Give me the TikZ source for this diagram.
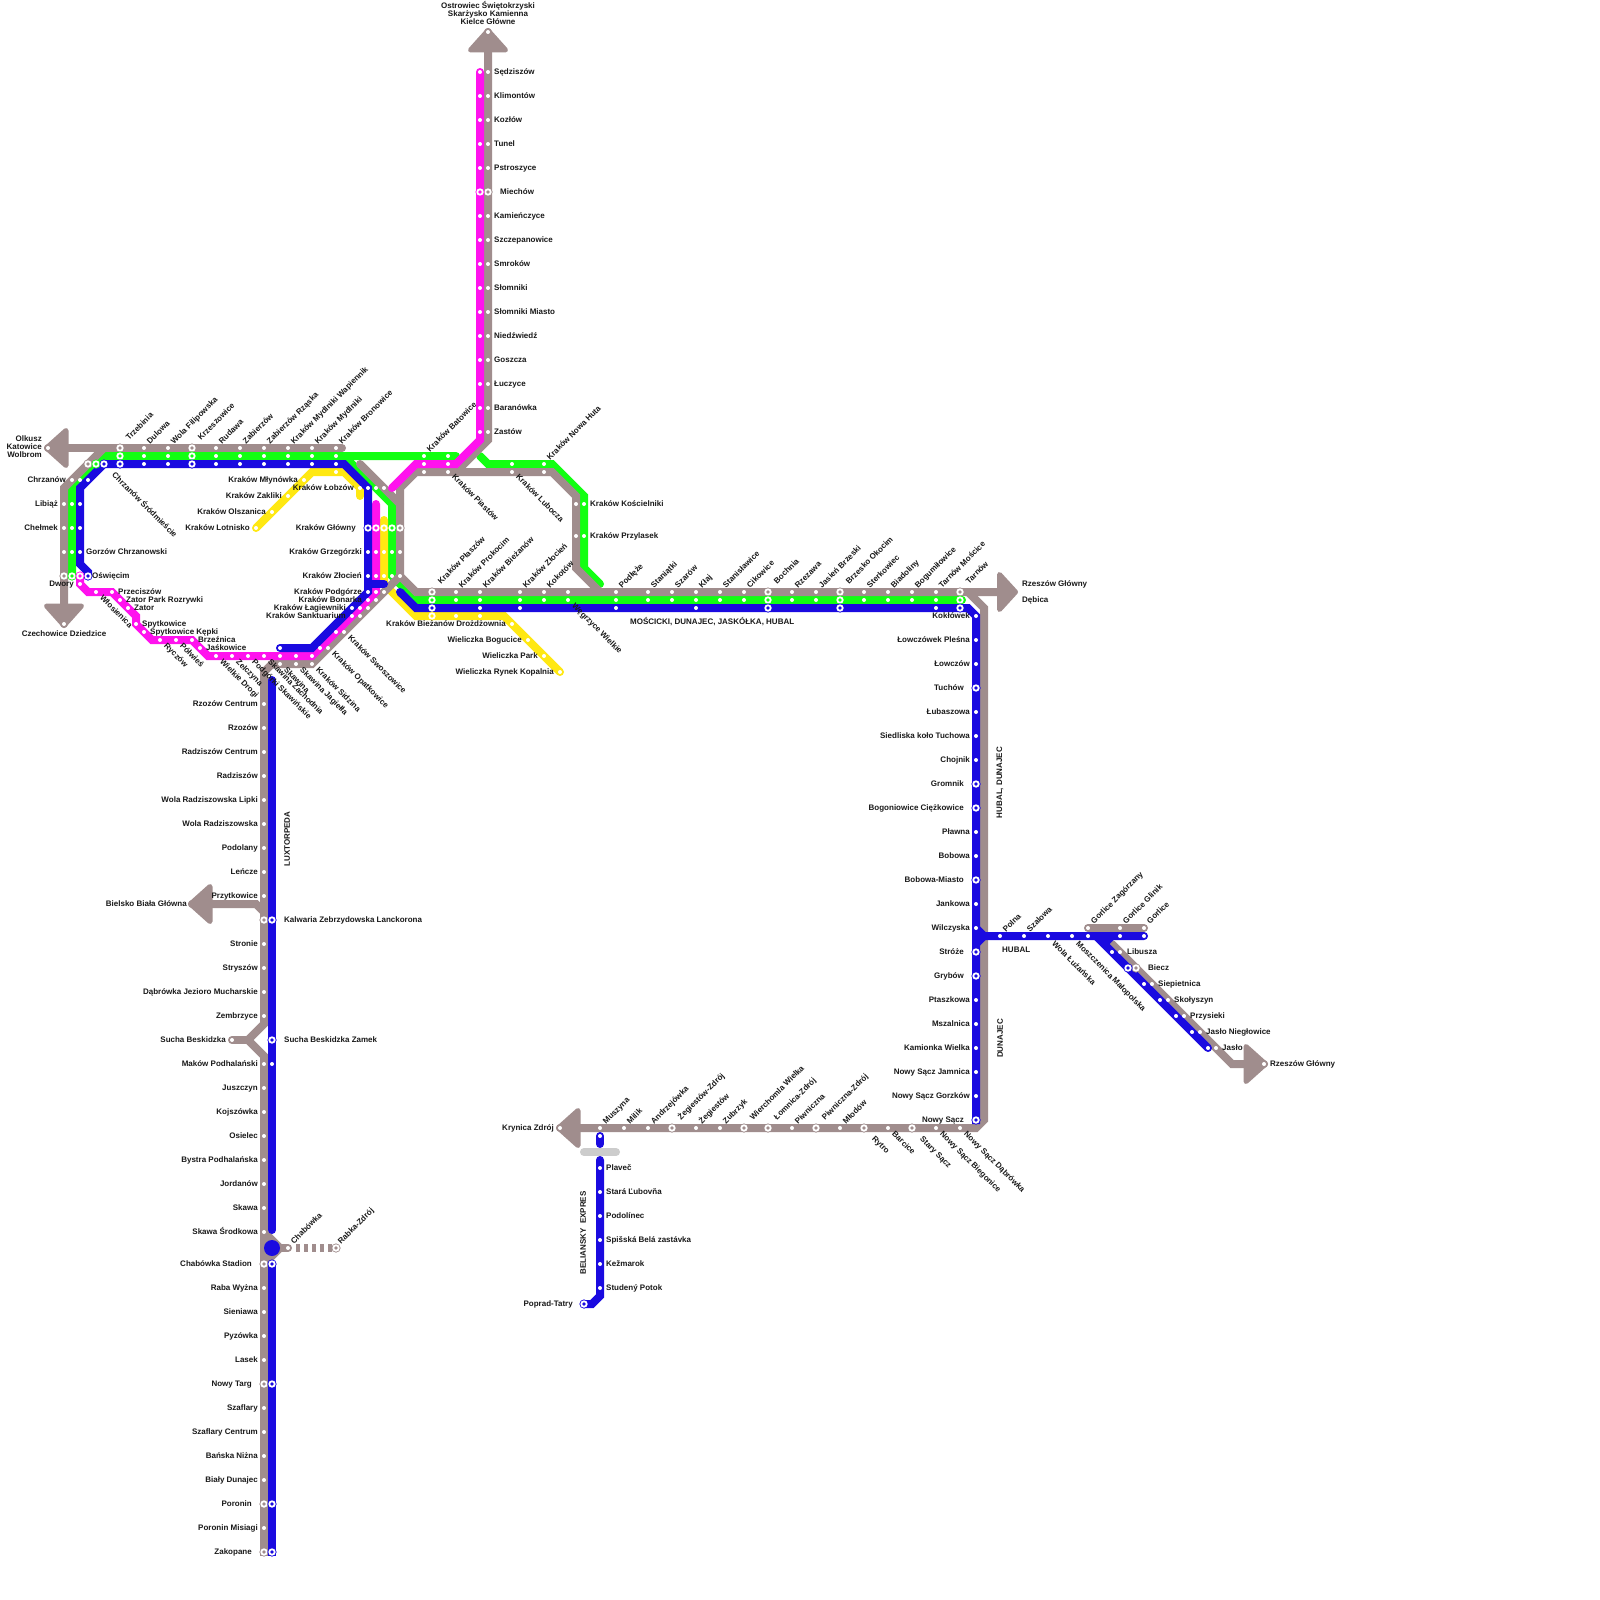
\documentclass[tikz,border=0pt]{standalone}
\usepackage{fontspec}
\setmainfont{Liberation Sans}
\definecolor{railgrey}{HTML}{A08D8D}
\definecolor{railgreen}{HTML}{12FF12}
\definecolor{railblue}{HTML}{1A0AE0}
\definecolor{railpink}{HTML}{FF12EE}
\definecolor{railyellow}{HTML}{FFE812}
\definecolor{railpale}{HTML}{CCCCCC}
\tikzset{
  rail/.style={line width=8pt,line cap=round},
  lbl/.style={font=\fontsize{8}{8}\selectfont\bfseries,inner sep=0pt,text=black!90},
  labl/.style={lbl,anchor=base east},
  labr/.style={lbl,anchor=base west},
  labu/.style={lbl,xshift=-1pt,yshift=-1.5pt,rotate=45,anchor=base west},
  labd/.style={lbl,xshift=-0.5pt,yshift=0.5pt,rotate=-45,anchor=base west},
  labv/.style={lbl,rotate=90,anchor=center}
}
\newcommand{\headpoly}[3]{\draw[railgrey,fill=railgrey,line width=5pt,line join=round] #1 -- #2 -- #3 -- cycle;}
\newcommand{\ringst}[3]{\fill[#1] (#2,#3) circle (4.6); \fill[white] (#2,#3) circle (3.7); \fill[#1] (#2,#3) circle (1.8);}
\begin{document}
\begin{tikzpicture}[x=1pt,y=-1pt]
\useasboundingbox (0,0) rectangle (1600,1600);
\fill[white] (0,0) rectangle (1600,1600);

\draw[rail,railgreen] (72,576)--(72,488)--(104,456)--(456,456);
\draw[rail,railgreen] (344,456)--(392,504)--(392,576)--(416,600)--(962,600);
\draw[rail,railgreen] (480,456)--(488,464)--(552,464)--(584,496)--(584,568)--(600,584);
\draw[rail,railyellow] (256,528)--(312,472)--(344,472)--(360,488)--(360,496);
\draw[rail,railyellow] (384,520)--(384,584)--(416,616)--(504,616)--(560,672);

\draw[rail,railgrey] (48,448)--(342,448);
\draw[rail,railgrey] (104,448)--(64,488)--(64,624);
\draw[rail,railgrey] (488,32)--(488,440)--(456,472);
\draw[rail,railgrey] (360,464)--(400,504);
\draw[rail,railgrey] (400,576)--(400,488)--(416,472)--(552,472)--(576,496)--(576,568)--(600,592);
\draw[rail,railgrey] (400,576)--(416,592)--(1000,592);
\draw[rail,railgrey] (968,592)--(984,608)--(984,1120)--(976,1128)--(560,1128);
\draw[rail,railgrey] (400,576)--(312,664)--(272,664)--(264,672)--(264,1024)--(248,1040)--(264,1056)--(264,1552);
\draw[rail,railgrey,line cap=butt] (264,1552)--(264,1556);
\draw[rail,railgrey] (232,1040)--(248,1040);
\draw[rail,railgrey] (192,904)--(256,904)--(264,912);
\draw[rail,railgrey] (264,1232)--(280,1248)--(264,1264);
\draw[rail,railgrey] (272,1248)--(288,1248);
\draw[line width=8pt,railgrey,dash pattern=on 4pt off 4pt] (296,1248)--(332,1248);
\draw[rail,railgrey] (1088,928)--(1144,928);
\draw[rail,railgrey] (1112,944)--(1232,1064)--(1264,1064);
\headpoly{(46.5,448)}{(66,430.5)}{(66,465.5)}
\headpoly{(64,625.5)}{(46.5,606)}{(81.5,606)}
\headpoly{(488,30.5)}{(470.5,50)}{(505.5,50)}
\headpoly{(1015.5,592)}{(999.5,574.5)}{(999.5,609.5)}
\headpoly{(1265.5,1064)}{(1246,1046.5)}{(1246,1081.5)}
\headpoly{(190.5,904)}{(210,886.5)}{(210,921.5)}
\headpoly{(558.5,1128)}{(578,1110.5)}{(578,1145.5)}

\draw[rail,railpink] (480,72)--(480,440)--(456,464)--(416,464)--(392,488);
\draw[rail,railpink] (80,576)--(80,584)--(88,592)--(112,592)--(136,616)--(136,624)--(152,640)--(192,640)--(208,656)--(312,656)--(376,592)--(376,504);

\draw[rail,railblue] (88,576)--(88,572)--(80,564)--(80,488)--(104,464)--(344,464)--(368,488)--(368,592)--(312,648)--(280,648);
\draw[rail,railblue] (368,584)--(384,584);
\draw[rail,railblue,line cap=butt] (400,592)--(416,608)--(968,608)--(976,616)--(976,1124);
\draw[rail,railblue] (400,592)--(402,594);
\draw[rail,railblue] (976,928)--(984,936)--(1144,936);
\draw[rail,railblue] (976,944)--(984,936);
\draw[rail,railblue] (1096,936)--(1208,1048);
\draw[rail,railblue] (1112,936)--(1104,944);
\draw[rail,railblue] (272,680)--(272,1230);
\draw[rail,railblue,line cap=butt] (272,1264)--(272,1556);
\fill[railblue] (272,1248) circle (8);
\draw[rail,railblue] (600,1136)--(600,1144);
\draw[rail,railpale] (584,1152)--(616,1152);
\draw[rail,railblue] (600,1160)--(600,1296)--(592,1304)--(584,1304);

\foreach \x in {144,168,216,240,264,288,312,336} {
  \fill[white] (\x,448) circle (2);
  \fill[white] (\x,456) circle (2);
  \fill[white] (\x,464) circle (2);
}
\foreach \x/\y in {48/448,72/480,80/480,88/480,64/504,72/504,80/504,64/528,72/528,80/528,64/552,72/552,80/552,64/624,80/584,96/592,112/592,120/600,128/608,136/624,144/632,160/640,176/640,192/640,200/648,216/656,232/656,248/656,264/656,280/656,296/656,312/656,320/648,336/632,352/616,360/608,368/600,376/592,280/648,368/592,352/608,280/664,296/664,312/664,328/648,344/632,360/616,368/608,376/600,384/592,256/528,272/512,288/496,304/480,336/472,360/488,368/488,376/488,384/488,424/456,448/456,424/464,448/464,424/472,448/472,512/464,544/464,512/472,544/472,576/504,584/504,576/536,584/536,512/624,528/640,544/656,560/672,456/616,480/616,488/32} \fill[white] (\x,\y) circle (2);
\foreach \y in {552,576} \foreach \x in {368,376,384,392,400} \fill[white] (\x,\y) circle (2);
\foreach \y in {72,96,120,144,168,216,240,264,288,312,336,360,384,408,432} {
  \fill[white] (480,\y) circle (2);
  \fill[white] (488,\y) circle (2);
}
\foreach \x in {456,480,520,544,568,616,648,672,696,720,744,792,816,864,888,912,936} {
  \fill[white] (\x,592) circle (2);
  \fill[white] (\x,600) circle (2);
}
\foreach \x in {480,520,616,696,936} \fill[white] (\x,608) circle (2);
\foreach \y in {704,728,752,776,800,824,848,872,896,944,968,992,1016,1064,1088,1112,1136,1160,1184,1208,1232,1288,1312,1336,1360,1408,1432,1456,1480,1528} \fill[white] (264,\y) circle (2);
\foreach \x/\y in {232/1040,272/1064,288/1248,600/1136,600/1168,600/1192,600/1216,600/1240,600/1264,600/1288,560/1128,600/1128,624/1128,648/1128,696/1128,720/1128,792/1128,840/1128,888/1128,936/1128,960/1128} \fill[white] (\x,\y) circle (2);
\foreach \y in {616,640,664,712,736,760,832,856,904,928,1000,1024,1048,1072,1096} \fill[white] (976,\y) circle (2);
\foreach \x/\y in {1000/936,1024/936,1048/936,1072/936,1088/936,1120/936,1144/936,1088/928,1120/928,1144/928,1112/952,1120/952,1144/984,1152/984,1160/1000,1168/1000,1176/1016,1184/1016,1192/1032,1200/1032,1208/1048,1216/1048,1264/1064} \fill[white] (\x,\y) circle (2);

\foreach \x/\y in {120/448,192/448,88/464,64/576,400/528,432/592,768/592,840/592,960/592,488/192,264/920,264/1264,264/1384,264/1504,264/1552,336/1248,672/1128,744/1128,768/1128,816/1128,864/1128,912/1128,1136/968} {\ringst{railgrey}{\x}{\y}}
\foreach \x/\y in {120/456,192/456,96/464,72/576,392/528,432/600,768/600,840/600,960/600} {\ringst{railgreen}{\x}{\y}}
\foreach \x/\y in {120/464,192/464,104/464,88/576,368/528,432/608,768/608,840/608,960/608,272/920,272/1040,272/1264,272/1384,272/1504,272/1552,976/688,976/784,976/808,976/880,976/952,976/976,976/1120,584/1304,1128/968} {\ringst{railblue}{\x}{\y}}
\foreach \x/\y in {80/576,376/528,480/192} {\ringst{railpink}{\x}{\y}}
\foreach \x/\y in {384/528,432/616} {\ringst{railyellow}{\x}{\y}}

\foreach \x/\name in {144/Dulowa,168/Wola Filipowska,216/Rudawa,240/Zabierzów,264/Zabierzów Rząska,288/Kraków Mydlniki Wapiennik,312/Kraków Mydlniki,336/Kraków Bronowice}
  \node[labu] (top\x) at (\x+7,443) {\name};
\foreach \x/\name in {120/Trzebinia,192/Krzeszowice}
  \node[labu] (top\x) at (\x+10,439) {\name};
\foreach \x/\name in {456/Kraków Prokocim,480/Kraków Bieżanów,520/Kraków Złocień,544/Kokotów,616/Podłęże,648/Staniątki,672/Szarów,696/Kłaj,720/Stanisławice,744/Cikowice,792/Rzezawa,816/Jasień Brzeski,864/Sterkowiec,888/Biadoliny,912/Bogumiłowice,936/Tarnów Mościce}
  \node[labu] (mid\x) at (\x+7,587) {\name};
\foreach \x/\name in {432/Kraków Płaszów,768/Bochnia,840/Brzesko Okocim,960/Tarnów}
  \node[labu] (mid\x) at (\x+10,583) {\name};
\foreach \x/\name in {600/Muszyna,624/Milik,648/Andrzejówka,696/Żegiestów,720/Zubrzyk,792/Piwniczna,840/Młodów}
  \node[labu] (bot\x) at (\x+7,1123) {\name};
\foreach \x/\name in {672/Żegiestów-Zdrój,744/Wierchomla Wielka,768/Łomnica-Zdrój,816/Piwniczna-Zdrój}
  \node[labu] (bot\x) at (\x+10,1119) {\name};
\foreach \x/\name in {864/Rytro,912/Stary Sącz}
  \node[labd] (bot\x) at (\x+8,1140) {\name};
\foreach \x/\name in {888/Barcice,936/Nowy Sącz Biegonice,960/Nowy Sącz Dąbrówka}
  \node[labd] (bot\x) at (\x+4,1135) {\name};
\node[labu] (batowice) at (431,451) {Kraków Batowice};
\node[labu] (nowahuta) at (551,459) {Kraków Nowa Huta};
\node[labu] (chabowka) at (295,1243) {Chabówka};
\node[labu] (rabka) at (342,1243) {Rabka-Zdrój};
\node[labu] (polna) at (1007,931) {Polna};
\node[labu] (szalowa) at (1031,931) {Szalowa};
\node[labu] (zagorzany) at (1095,923) {Gorlice Zagórzany};
\node[labu] (glinik) at (1127,923) {Gorlice Glinik};
\node[labu] (gorlice) at (1151,923) {Gorlice};

\foreach \x/\y/\name in {100/599/Włosienica,164/647/Ryczów,180/647/Półwieś,220/663/Wielkie Drogi,236/663/Zelczyna,252/663/Podgórki Skawińskie,268/663/Skawina Zachodnia,284/671/Skawina,300/671/Skawina Jagiełła,316/671/Kraków Sidzina,332/655/Kraków Opatkowice,348/639/Kraków Swoszowice,452/478/Kraków Piastów,516/478/Kraków Lubocza,572/607/Węgrzyce Wielkie,112/476/Chrzanów Śródmieście,1052/945/Wola Łużańska,1076/945/Moszczenica Małopolska}
  \node[labd] (d\x) at (\x,\y) {\name};

\foreach \x/\y/\name in {66/482/Chrzanów,58/506/Libiąż,58/530/Chełmek,74/586/Dwory,298/482/Kraków Młynówka,282/498/Kraków Zakliki,266/514/Kraków Olszanica,250/530/Kraków Lotnisko,354/490/Kraków Łobzów,356/530/Kraków Główny,362/554/Kraków Grzegórzki,362/578/Kraków Złocień,362/594/Kraków Podgórze,362/602/Kraków Bonarka,346/610/Kraków Łagiewniki,346/618/Kraków Sanktuarium,506/626/Kraków Bieżanów Drożdżownia,522/642/Wieliczka Bogucice,538/658/Wieliczka Park,554/674/Wieliczka Rynek Kopalnia,187/906/Bielsko Biała Główna,226/1042/Sucha Beskidzka,554/1130/Krynica Zdrój,573/1306/Poprad-Tatry}
  \node[labl] (l\x-\y) at (\x,\y) {\name};

\foreach \y/\name in {704/Rzozów Centrum,728/Rzozów,752/Radziszów Centrum,776/Radziszów,800/Wola Radziszowska Lipki,824/Wola Radziszowska,848/Podolany,872/Leńcze,896/Przytkowice,944/Stronie,968/Stryszów,992/Dąbrówka Jezioro Mucharskie,1016/Zembrzyce,1064/Maków Podhalański,1088/Juszczyn,1112/Kojszówka,1136/Osielec,1160/Bystra Podhalańska,1184/Jordanów,1208/Skawa,1232/Skawa Środkowa,1288/Raba Wyżna,1312/Sieniawa,1336/Pyzówka,1360/Lasek,1408/Szaflary,1432/Szaflary Centrum,1456/Bańska Niżna,1480/Biały Dunajec,1528/Poronin Misiagi}
  \node[labl] (za\y) at (258,\y+2.5) {\name};
\foreach \y/\name in {1264/Chabówka Stadion,1384/Nowy Targ,1504/Poronin,1552/Zakopane}
  \node[labl] (zb\y) at (252,\y+2.5) {\name};
\foreach \y/\name in {616/Kokłówek,640/Łowczówek Pleśna,664/Łowczów,712/Łubaszowa,736/Siedliska koło Tuchowa,760/Chojnik,832/Pławna,856/Bobowa,904/Jankowa,928/Wilczyska,1000/Ptaszkowa,1024/Mszalnica,1048/Kamionka Wielka,1072/Nowy Sącz Jamnica,1096/Nowy Sącz Gorzków}
  \node[labl] (tu\y) at (970,\y+2.5) {\name};
\foreach \y/\name in {688/Tuchów,784/Gromnik,808/Bogoniowice Ciężkowice,880/Bobowa-Miasto,952/Stróże,976/Grybów,1120/Nowy Sącz}
  \node[labl] (tv\y) at (964,\y+2.5) {\name};

\foreach \y/\name in {72/Sędziszów,96/Klimontów,120/Kozłów,144/Tunel,168/Pstroszyce,216/Kamieńczyce,240/Szczepanowice,264/Smroków,288/Słomniki,312/Słomniki Miasto,336/Niedźwiedź,360/Goszcza,384/Łuczyce,408/Baranówka,432/Zastów}
  \node[labr] (ms\y) at (494,\y+2.5) {\name};
\node[labr] (miechow) at (500,194.5) {Miechów};
\foreach \y/\name in {1168/Plaveč,1192/Stará Ľubovňa,1216/Podolínec,1240/Spišská Belá zastávka,1264/Kežmarok,1288/Studený Potok}
  \node[labr] (sk\y) at (606,\y+2) {\name};
\foreach \x/\y/\name in {86/554/Gorzów Chrzanowski,92/578/Oświęcim,118/594/Przeciszów,126/602/Zator Park Rozrywki,134/610/Zator,142/626/Spytkowice,150/634/Spytkowice Kępki,198/642/Brzeźnica,206/650/Jaśkowice,590/506/Kraków Kościelniki,590/538/Kraków Przylasek,1022/586/Rzeszów Główny,1022/602/Dębica,284/922/Kalwaria Zebrzydowska Lanckorona,284/1042/Sucha Beskidzka Zamek,1127/954/Libusza,1148/970/Biecz,1158/986/Siepietnica,1174/1002/Skołyszyn,1190/1018/Przysieki,1206/1034/Jasło Niegłowice,1222/1050/Jasło,1270/1066/Rzeszów Główny}
  \node[labr] (r\x-\y) at (\x,\y) {\name};

\node[lbl,align=right,anchor=east] (olkusz) at (42,447) {Olkusz\\Katowice\\Wolbrom};
\node[lbl,align=center,anchor=center] (ostrowiec) at (488,13) {Ostrowiec Świętokrzyski\\Skarżysko Kamienna\\Kielce Główne};
\node[lbl,anchor=base] (czechowice) at (64,636) {Czechowice Dziedzice};
\node[labr] (moscicki) at (630,624) {MOŚCICKI, DUNAJEC, JASKÓŁKA, HUBAL};
\node[labr] (hubal) at (1002,952) {HUBAL};
\node[labv] (hubaldun) at (1000,782.5) {HUBAL, DUNAJEC};
\node[labv] (dunajec) at (1000,1038.5) {DUNAJEC};
\node[labv] (luxtorpeda) at (287,839) {LUXTORPEDA};
\node[labv] (beliansky) at (583,1233) {BELIANSKY\ \ EXPRES};
\end{tikzpicture}
\end{document}
